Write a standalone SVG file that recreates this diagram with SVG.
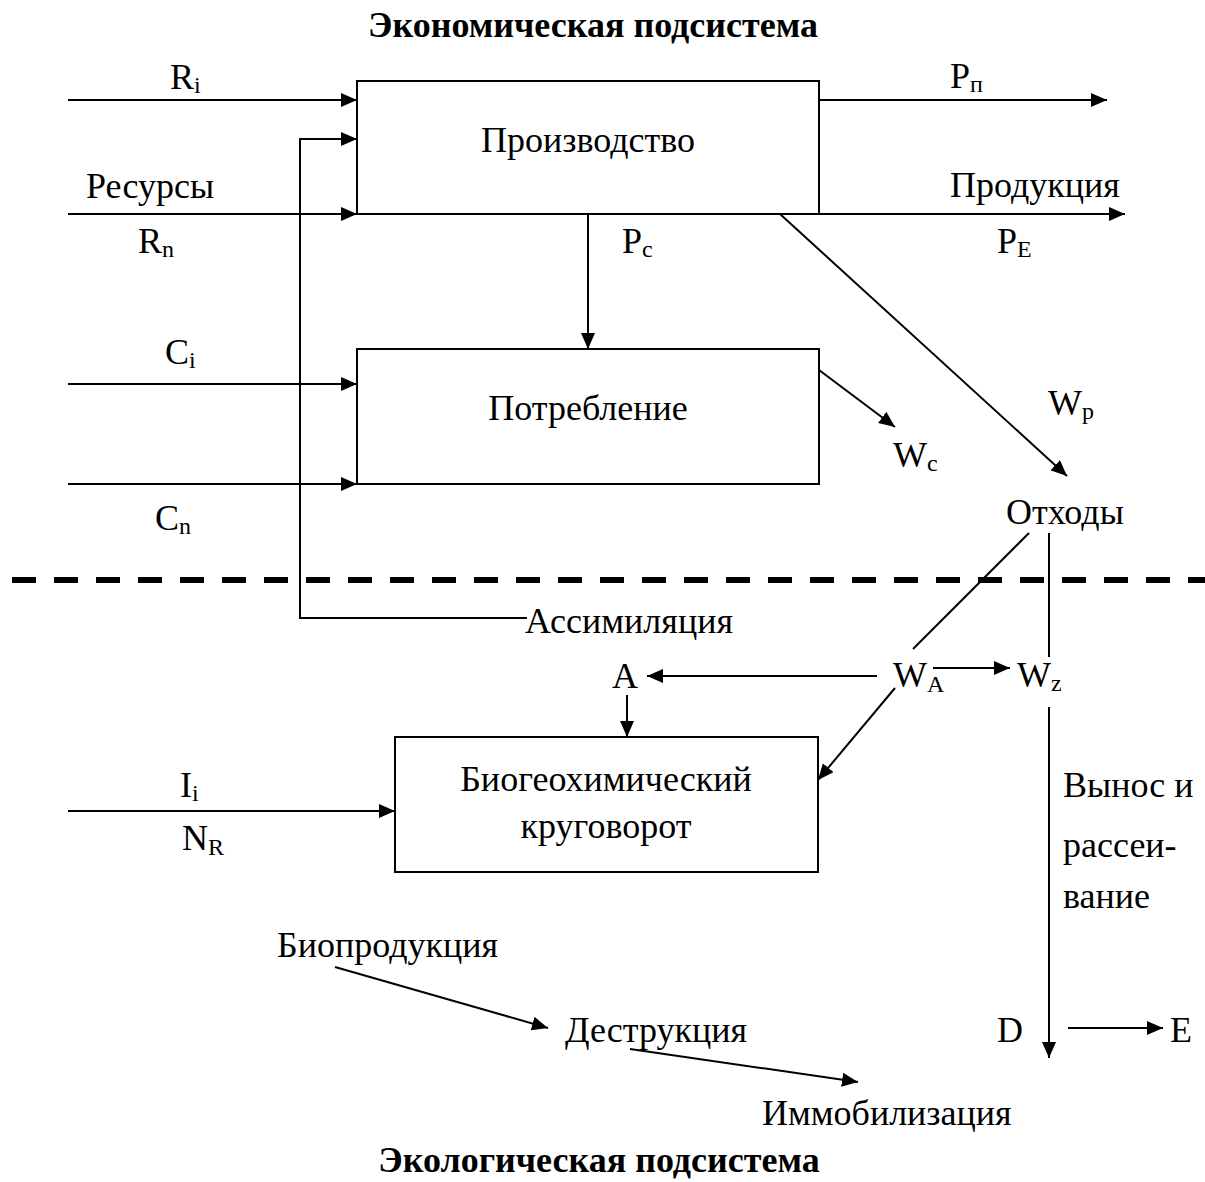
<svg xmlns="http://www.w3.org/2000/svg" width="1205" height="1182" viewBox="0 0 1205 1182">
<style>
text{font-family:"Liberation Serif","Times New Roman",serif;font-size:36px;fill:#000}
.b{font-weight:bold}
.s{font-size:24px}
.m{text-anchor:middle}
.ln{fill:none;stroke:#000;stroke-width:2}
.ar{fill:none;stroke:#000;stroke-width:2;marker-end:url(#ah)}
.box{fill:#fff;stroke:#000;stroke-width:2}
</style>
<defs>
<marker id="ah" markerUnits="userSpaceOnUse" markerWidth="16" markerHeight="14" refX="16" refY="7" orient="auto">
<path d="M0,0 L16,7 L0,14 z" fill="#000"/>
</marker>
</defs>
<rect width="1205" height="1182" fill="#fff"/>
<text class="b m" x="593" y="37">Экономическая подсистема</text>
<text class="b m" x="599" y="1172">Экологическая подсистема</text>

<g id="connectors">
<path class="ar" d="M68,100 H357"/>
<path class="ar" d="M527,618 H300 V139 H357"/>
<path class="ar" d="M68,214 H357"/>
<path class="ar" d="M819,100 H1107"/>
<path class="ar" d="M819,214 H1125"/>
<path class="ar" d="M588,214 V349"/>
<path class="ar" d="M68,384 H357"/>
<path class="ar" d="M68,484 H357"/>
<path class="ar" d="M819,370 L895,427"/>
<path class="ar" d="M780,214 L1067,476"/>
<path class="ln" d="M1029,533 L913,649"/>
<path class="ln" d="M1049,533 V657"/>
<path d="M12,580 H1205" fill="none" stroke="#000" stroke-width="6" stroke-dasharray="24 18"/>
<path class="ar" d="M877,676 H647"/>
<path class="ar" d="M933,668 H1010"/>
<path class="ar" d="M627,695 V737"/>
<path class="ar" d="M895,688 L818,780"/>
<path class="ar" d="M68,811 H395"/>
<path class="ar" d="M1049,707 V1058"/>
<path class="ar" d="M1068,1028 H1163"/>
<path class="ar" d="M335,967 L548,1028"/>
<path class="ar" d="M630,1049 L858,1082"/>
</g>

<g id="production">
<rect class="box" x="357" y="81" width="462" height="133"/>
<text class="m" x="588" y="152">Производство</text>
</g>
<g id="consumption">
<rect class="box" x="357" y="349" width="462" height="135"/>
<text class="m" x="588" y="420">Потребление</text>
</g>
<g id="biogeo">
<rect class="box" x="395" y="737" width="423" height="135"/>
<text class="m" x="606" y="791">Биогеохимический</text>
<text class="m" x="606" y="838">круговорот</text>
</g>

<g id="labels">
<text x="170" y="89">R<tspan class="s" dy="4">i</tspan></text>
<text x="86" y="198">Ресурсы</text>
<text x="138" y="253">R<tspan class="s" dy="4">n</tspan></text>
<text x="950" y="88">P<tspan class="s" dy="4">п</tspan></text>
<text x="950" y="197">Продукция</text>
<text x="997" y="253">P<tspan class="s" dy="4">E</tspan></text>
<text x="622" y="253">P<tspan class="s" dy="4">c</tspan></text>
<text x="165" y="364">C<tspan class="s" dy="4">i</tspan></text>
<text x="155" y="530">C<tspan class="s" dy="4">n</tspan></text>
<text x="893" y="467">W<tspan class="s" dy="4">c</tspan></text>
<text x="1048" y="415">W<tspan class="s" dy="4">p</tspan></text>
<text id="waste" x="1006" y="524">Отходы</text>
<text x="525" y="633">Ассимиляция</text>
<text x="612" y="688">A</text>
<text x="893" y="687">W<tspan class="s" dy="5">A</tspan></text>
<text x="1017" y="687">W<tspan class="s" dy="4">z</tspan></text>
<text x="180" y="797">I<tspan class="s" dy="4">i</tspan></text>
<text x="182" y="850">N<tspan class="s" dy="5">R</tspan></text>
<text x="1063" y="797">Вынос и</text>
<text x="1063" y="857">рассеи-</text>
<text x="1063" y="908">вание</text>
<text x="997" y="1042">D</text>
<text x="1170" y="1042">E</text>
<text x="277" y="957">Биопродукция</text>
<text x="565" y="1042">Деструкция</text>
<text x="762" y="1125">Иммобилизация</text>
</g>
</svg>
